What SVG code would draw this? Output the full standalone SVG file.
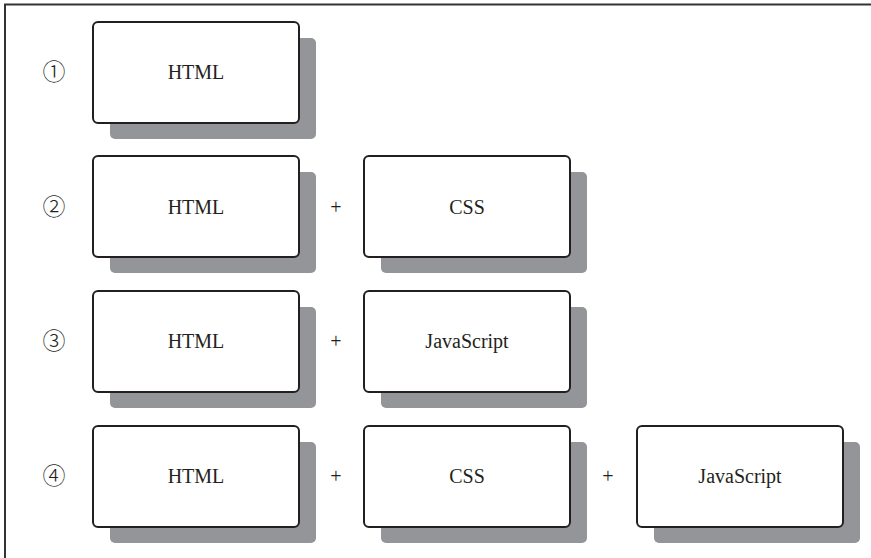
<svg xmlns="http://www.w3.org/2000/svg" width="871" height="558" viewBox="0 0 871 558">
<style>
.sh{fill:#939598}
.bx{fill:#fff;stroke:#231f20;stroke-width:2}
.t{font-family:"Liberation Serif","Noto Sans CJK JP",serif;font-size:20px;fill:#231f20;text-anchor:middle}
.n{font-family:"Noto Sans CJK JP","Liberation Serif",serif;font-size:23px;font-weight:300;fill:#231f20;text-anchor:middle}
</style>
<defs>
<g id="card"><rect class="sh" x="17" y="16" width="206" height="101" rx="5"/><rect class="bx" x="0" y="0" width="206" height="101" rx="5"/></g>
</defs>
<rect width="871" height="558" fill="#fff"/>
<path d="M5 558 V4.5 H871" fill="none" stroke="#333" stroke-width="2"/>
<g id="labels">
<text class="n" x="54" y="80">①</text>
<text class="n" x="54" y="215">②</text>
<text class="n" x="54" y="349">③</text>
<text class="n" x="54" y="484">④</text>
<text class="t" x="336" y="214">+</text>
<text class="t" x="336" y="348">+</text>
<text class="t" x="336" y="483">+</text>
<text class="t" x="608" y="483">+</text>
</g>
<g id="r1-html"><use href="#card" x="93" y="22"/><text class="t" x="196" y="79">HTML</text></g>
<g id="r2-html"><use href="#card" x="93" y="156"/><text class="t" x="196" y="214">HTML</text></g>
<g id="r2-css"><use href="#card" x="364" y="156"/><text class="t" x="467" y="214">CSS</text></g>
<g id="r3-html"><use href="#card" x="93" y="291"/><text class="t" x="196" y="348">HTML</text></g>
<g id="r3-js"><use href="#card" x="364" y="291"/><text class="t" x="467" y="348">JavaScript</text></g>
<g id="r4-html"><use href="#card" x="93" y="426"/><text class="t" x="196" y="483">HTML</text></g>
<g id="r4-css"><use href="#card" x="364" y="426"/><text class="t" x="467" y="483">CSS</text></g>
<g id="r4-js"><use href="#card" x="637" y="426"/><text class="t" x="740" y="483">JavaScript</text></g>
<g id="connectors"></g>
</svg>
